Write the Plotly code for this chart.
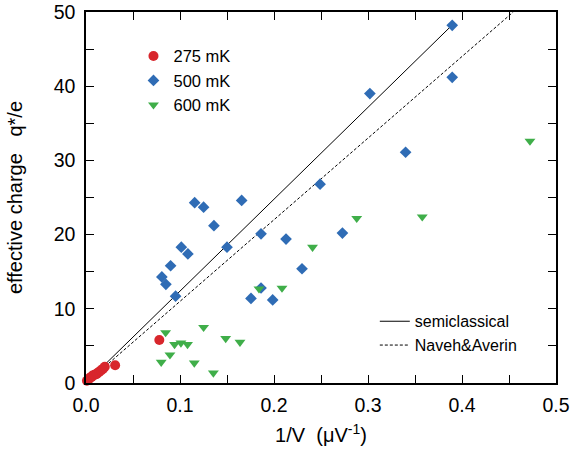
import plotly.graph_objects as go

# Measured effective charge vs inverse voltage at three temperatures
x_275 = [0.001, 0.003, 0.004, 0.006, 0.007, 0.009, 0.011, 0.012, 0.014, 0.016, 0.018, 0.020, 0.031, 0.078]
y_275 = [0.3, 0.5, 0.7, 0.8, 1.0, 1.1, 1.2, 1.3, 1.5, 1.7, 1.9, 2.2, 2.4, 5.8]

x_500 = [0.1156, 0.1251, 0.1361, 0.1656, 0.1862, 0.2128, 0.1014, 0.1084, 0.150, 0.090,
         0.0807, 0.085, 0.0953, 0.2298, 0.1862, 0.1755, 0.1986,
         0.3896, 0.3896, 0.302, 0.340, 0.249, 0.2728]
y_500 = [24.3, 23.7, 21.2, 24.6, 20.1, 19.4, 18.3, 17.4, 18.3, 15.8,
         14.3, 13.3, 11.7, 15.4, 12.8, 11.4, 11.2,
         48.2, 41.2, 39.0, 31.1, 26.8, 20.2]

x_600 = [0.0847, 0.1251, 0.0942, 0.101, 0.108, 0.1486, 0.1638, 0.0893, 0.080, 0.1152,
         0.1355, 0.184, 0.2085, 0.241, 0.288, 0.3577, 0.4723]
y_600 = [6.8, 7.5, 5.2, 5.4, 5.2, 6.0, 5.5, 3.8, 2.8, 2.7,
         1.35, 12.7, 12.8, 18.3, 22.2, 22.4, 32.6]

# Theory lines through the origin
x_semi = [0.0, 0.39]
y_semi = [0.0, 48.3]
x_na = [0.0, 0.4545]
y_na = [0.0, 50.0]

x_ticks = [0.0, 0.1, 0.2, 0.3, 0.4, 0.5]
y_ticks = [0, 10, 20, 30, 40, 50]

FONT = "Liberation Sans, Arial, sans-serif"
RED = "#d8262c"
BLUE = "#2f6cb5"
GREEN = "#3fae49"

fig = go.Figure()

fig.add_trace(go.Scatter(x=x_semi, y=y_semi, mode="lines", name="semiclassical",
                         line=dict(color="black", width=1), legend="legend2"))
fig.add_trace(go.Scatter(x=x_na, y=y_na, mode="lines", name="Naveh&Averin",
                         line=dict(color="black", width=1, dash="3px,2px"), legend="legend2"))

fig.add_trace(go.Scatter(x=x_275, y=y_275, mode="markers", name="275 mK",
                         marker=dict(symbol="circle", size=10, color=RED), cliponaxis=False))
fig.add_trace(go.Scatter(x=x_500, y=y_500, mode="markers", name="500 mK",
                         marker=dict(symbol="diamond", size=9, color=BLUE), cliponaxis=False))
fig.add_trace(go.Scatter(x=x_600, y=y_600, mode="markers", name="600 mK",
                         marker=dict(symbol="triangle-down", size=9.5, color=GREEN), cliponaxis=False))

axis_common = dict(
    showline=True, linecolor="black", linewidth=1.5, mirror="ticks",
    ticks="inside", ticklen=8, tickwidth=1, tickcolor="black",
    showgrid=False, zeroline=False, automargin=False,
    tickfont=dict(family=FONT, size=19.5, color="black"),
)

fig.update_layout(
    width=570, height=451,
    margin=dict(l=86, r=14, t=12, b=68),
    paper_bgcolor="white", plot_bgcolor="white",
    font=dict(family=FONT, color="black"),
    xaxis=dict(range=[0, 0.5], tickvals=x_ticks, ticktext=[f"{v:.1f}" for v in x_ticks],
               ticklabelstandoff=4,
               minor=dict(dtick=0.05, ticks="inside", ticklen=8, tickcolor="black", showgrid=False),
               title=dict(text="1/V\u00a0\u00a0(\u03bcV<sup>-1</sup>)", font=dict(family=FONT, size=20), standoff=13),
               **axis_common),
    yaxis=dict(range=[0, 50], tickvals=y_ticks, ticktext=[str(v) for v in y_ticks],
               ticklabelstandoff=5,
               minor=dict(dtick=5, ticks="inside", ticklen=8, tickcolor="black", showgrid=False),
               title=dict(text="effective charge\u00a0\u00a0\u00a0q*/e", font=dict(family=FONT, size=20), standoff=26),
               **axis_common),
    legend=dict(x=0.101, y=0.928, xanchor="left", yanchor="top", bgcolor="rgba(0,0,0,0)",
                font=dict(family=FONT, size=16.5), itemsizing="trace"),
    legend2=dict(x=0.6145, y=0.212, xanchor="left", yanchor="top", bgcolor="rgba(0,0,0,0)",
                 font=dict(family=FONT, size=16)),
)

fig.write_html("out.html")
